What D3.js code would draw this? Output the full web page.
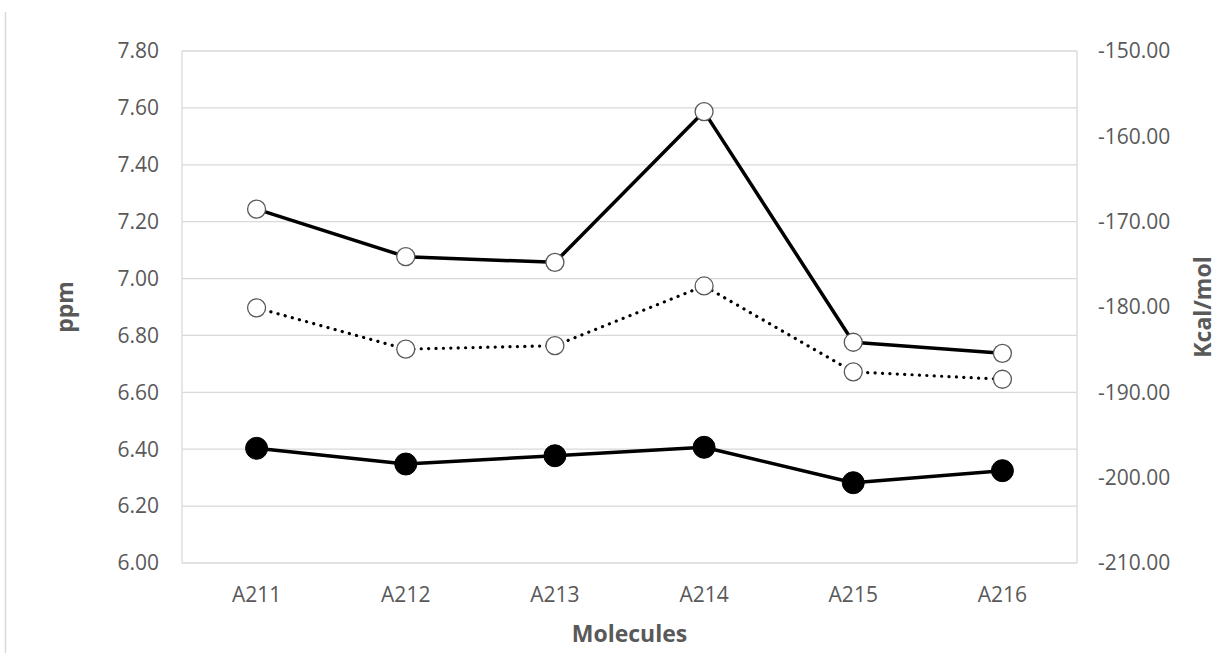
<!DOCTYPE html>
<html>
<head>
<meta charset="utf-8">
<script src="https://cdn.jsdelivr.net/npm/d3@7"></script>
<style>
  body { margin: 0; background: #fff; }
  text { font-family: "Open Sans", sans-serif; }
</style>
</head>
<body>
<svg id="chart" width="1227" height="653"></svg>
<script>
// molecules along the x axis
const molecules = ["A211", "A212", "A213", "A214", "A215", "A216"];

// ppm series (left axis)
const ppm_solid = [7.244, 7.077, 7.057, 7.587, 6.776, 6.737];
const ppm_dotted = [6.897, 6.752, 6.764, 6.974, 6.672, 6.646];

// energy series (right axis)
const energy = [-196.56, -198.40, -197.43, -196.44, -200.59, -199.18];

const ppm_ticks = [6.0, 6.2, 6.4, 6.6, 6.8, 7.0, 7.2, 7.4, 7.6, 7.8];
const kcal_ticks = [-210, -200, -190, -180, -170, -160, -150];

const w = 1227, h = 653;
const margin = { top: 51, right: 150, bottom: 90, left: 182 };
const grid_color = "#d9d9d9";
const text_color = "#595959";

const svg = d3.select("#chart");

const x = d3.scaleBand()
    .domain(molecules)
    .range([margin.left, w - margin.right]);
const y_left = d3.scaleLinear().domain([6.0, 7.8]).range([h - margin.bottom, margin.top]);
const y_right = d3.scaleLinear().domain([-210, -150]).range([h - margin.bottom, margin.top]);

// stray border on the far left
svg.append("line")
    .attr("x1", 5.5).attr("x2", 5.5)
    .attr("y1", 12).attr("y2", h)
    .attr("stroke", grid_color)
    .attr("stroke-width", 1.5);

// gridlines
svg.append("g")
    .selectAll("line")
    .data(ppm_ticks)
    .join("line")
    .attr("x1", margin.left).attr("x2", w - margin.right)
    .attr("y1", d => y_left(d)).attr("y2", d => y_left(d))
    .attr("stroke", grid_color)
    .attr("stroke-width", 1.3);

// frame lines
[margin.left, w - margin.right].forEach(px => {
    svg.append("line")
        .attr("x1", px).attr("x2", px)
        .attr("y1", margin.top).attr("y2", h - margin.bottom)
        .attr("stroke", grid_color)
        .attr("stroke-width", 1.3);
});

// tick labels
svg.append("g")
    .selectAll("text")
    .data(ppm_ticks)
    .join("text")
    .attr("x", margin.left - 23)
    .attr("y", d => y_left(d))
    .attr("dy", "0.35em")
    .attr("text-anchor", "end")
    .attr("fill", text_color)
    .style("font-size", "21px")
    .text(d => d.toFixed(2));

svg.append("g")
    .selectAll("text")
    .data(kcal_ticks)
    .join("text")
    .attr("x", w - margin.right + 21)
    .attr("y", d => y_right(d))
    .attr("dy", "0.35em")
    .attr("text-anchor", "start")
    .attr("fill", text_color)
    .style("font-size", "21px")
    .text(d => d.toFixed(2));

svg.append("g")
    .selectAll("text")
    .data(molecules)
    .join("text")
    .attr("x", d => x(d) + x.bandwidth() / 2)
    .attr("y", 602)
    .attr("text-anchor", "middle")
    .attr("fill", text_color)
    .style("font-size", "21px")
    .text(d => d);

// axis titles
svg.append("text")
    .attr("x", (margin.left + w - margin.right) / 2)
    .attr("y", 642)
    .attr("text-anchor", "middle")
    .attr("fill", text_color)
    .style("font-size", "23px")
    .style("font-weight", "bold")
    .text("Molecules");

const mid_y = (margin.top + h - margin.bottom) / 2;

svg.append("text")
    .attr("transform", `translate(73,${mid_y}) rotate(-90)`)
    .attr("text-anchor", "middle")
    .attr("fill", text_color)
    .style("font-size", "23px")
    .style("font-weight", "bold")
    .text("ppm");

svg.append("text")
    .attr("transform", `translate(1211,${mid_y}) rotate(-90)`)
    .attr("text-anchor", "middle")
    .attr("fill", text_color)
    .style("font-size", "23px")
    .style("font-weight", "bold")
    .text("Kcal/mol");

const cx = (_, i) => x(molecules[i]) + x.bandwidth() / 2;

function draw_series(values, scale, opts) {
    const line = d3.line()
        .x((d, i) => cx(d, i))
        .y(d => scale(d));

    svg.append("path")
        .datum(values)
        .attr("d", line)
        .attr("fill", "none")
        .attr("stroke", "#000")
        .attr("stroke-width", opts.width)
        .attr("stroke-linecap", opts.dash ? "round" : "butt")
        .attr("stroke-linejoin", "round")
        .attr("stroke-dasharray", opts.dash || null);

    svg.append("g")
        .selectAll("circle")
        .data(values)
        .join("circle")
        .attr("cx", cx)
        .attr("cy", d => scale(d))
        .attr("r", opts.r)
        .attr("fill", opts.fill)
        .attr("stroke", opts.stroke)
        .attr("stroke-width", opts.stroke_width);
}

draw_series(ppm_dotted, y_left, { width: 3.2, dash: "0.1,7.3", r: 9, fill: "#fff", stroke: "#595959", stroke_width: 1.3 });
draw_series(ppm_solid, y_left, { width: 3.5, r: 9, fill: "#fff", stroke: "#595959", stroke_width: 1.3 });
draw_series(energy, y_right, { width: 3.5, r: 11, fill: "#000", stroke: "#000", stroke_width: 1 });
</script>
</body>
</html>
